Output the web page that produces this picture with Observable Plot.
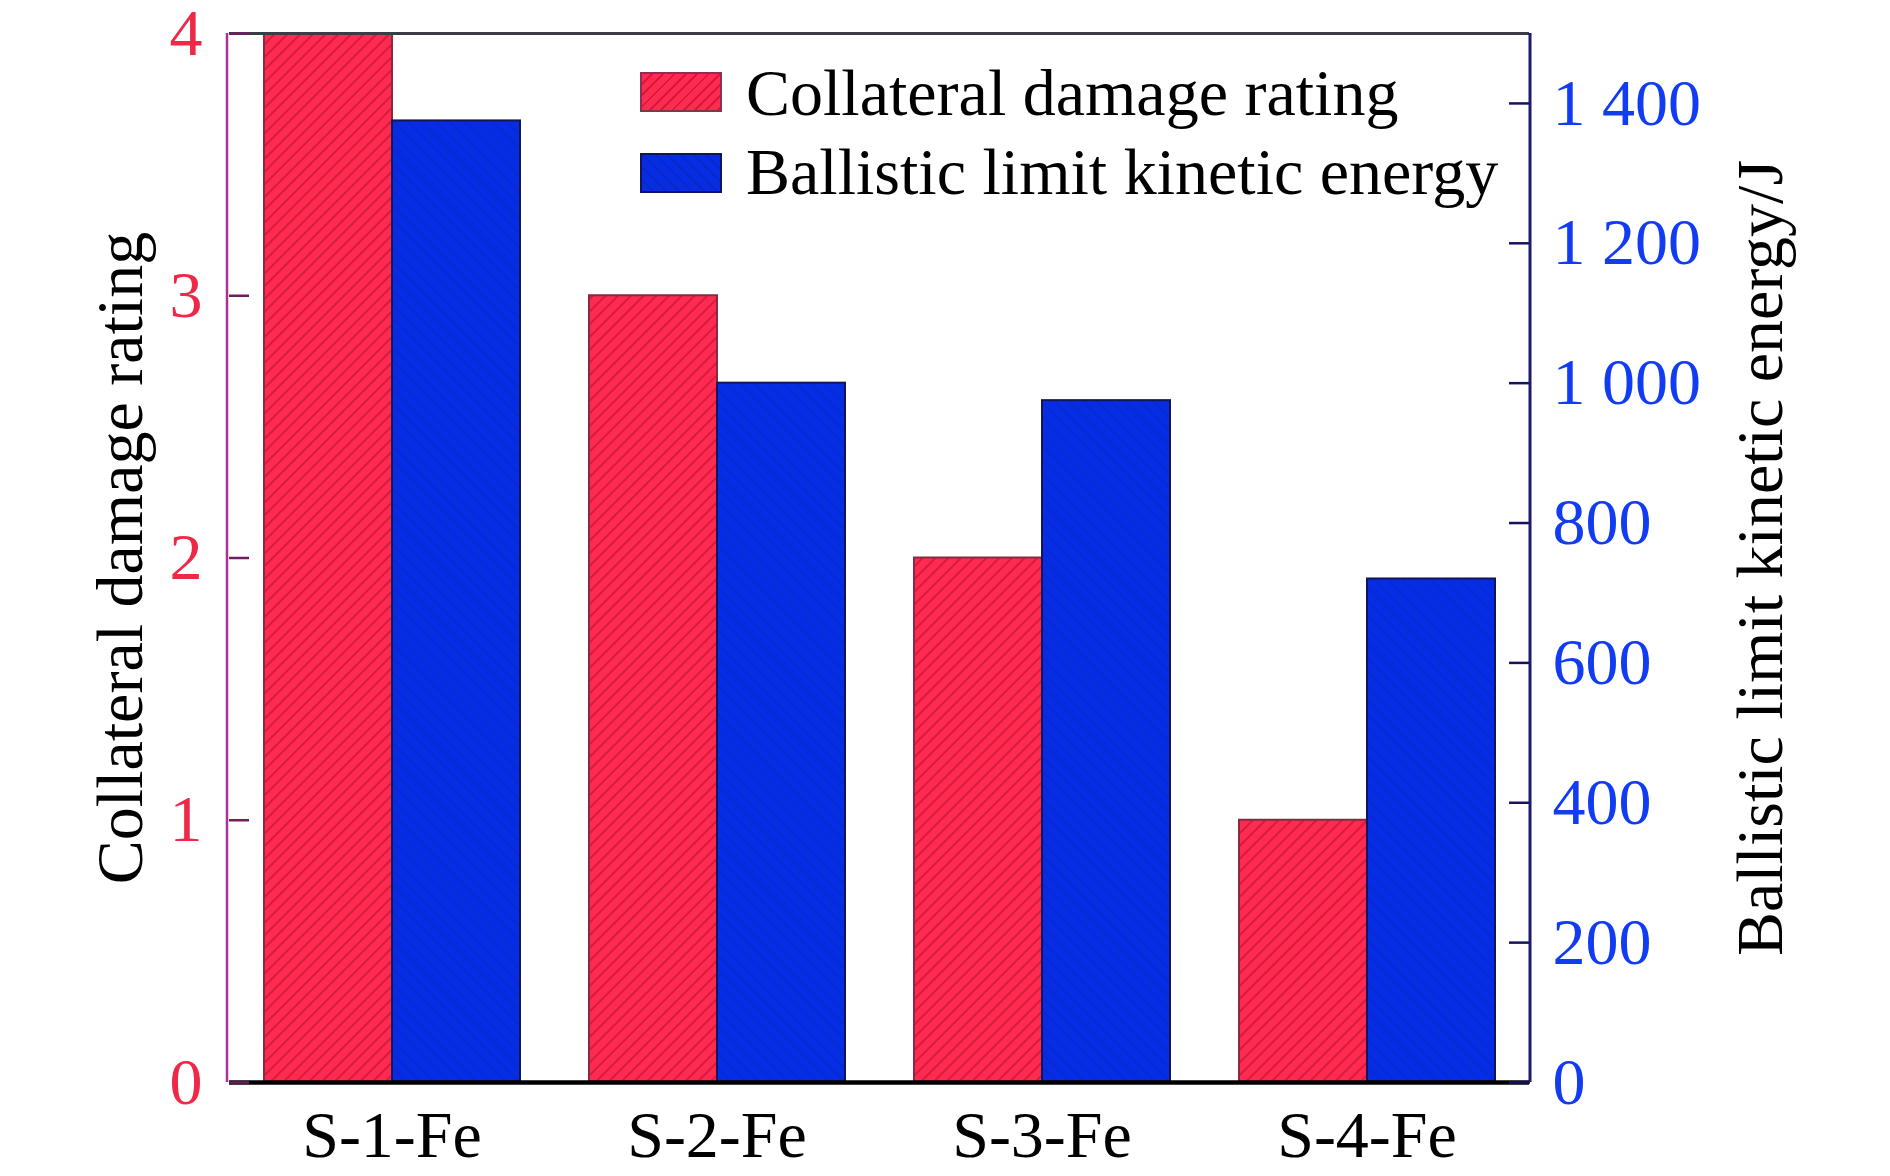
<!DOCTYPE html>
<html>
<head>
<meta charset="utf-8">
<script src="https://cdn.jsdelivr.net/npm/d3@7"></script>
<script src="https://cdn.jsdelivr.net/npm/@observablehq/plot@0.6"></script>
<style>
  body { margin: 0; background: #fff; }
  #wrap { position: relative; width: 1890px; height: 1176px; font-family: "Liberation Serif", "Times New Roman", serif; }
  .sw { position: absolute; width: 82px; height: 40px; box-sizing: border-box; }
  .lt { position: absolute; font-size: 66px; line-height: 66px; white-space: nowrap; color: #000; }
</style>
</head>
<body>
<div id="wrap"></div>
<script>
// ---- data ----
const categories = ["S-1-Fe", "S-2-Fe", "S-3-Fe", "S-4-Fe"];
const seriesNames = ["Collateral damage rating", "Ballistic limit kinetic energy"];
const damageRating = [4, 3, 2, 1];
const kineticEnergy = [1375, 1000, 975, 720];
const ratingTicks = [0, 1, 2, 3, 4];
const energyTicks = [0, 200, 400, 600, 800, 1000, 1200, 1400];
const ratingMax = 4;
const energyMax = 1500;
const leftTitle = "Collateral damage rating";
const rightTitle = "Ballistic limit kinetic energy/J";

// table (energy expressed on the rating axis for the shared y scale)
const k = ratingMax / energyMax;
const rows = categories.flatMap((c, i) => [
  {category: c, series: seriesNames[0], value: damageRating[i], y: damageRating[i]},
  {category: c, series: seriesNames[1], value: kineticEnergy[i], y: kineticEnergy[i] * k}
]);

const spaceFmt = d3.formatLocale({decimal: ".", thousands: " ", grouping: [3], currency: ["", ""]}).format(",d");

const mL = 227, mR = 360, mT = 33, mB = 94, W = 1890, H = 1176;

const plot = Plot.plot({
  width: W, height: H,
  marginLeft: mL, marginRight: mR, marginTop: mT, marginBottom: mB,
  style: {fontFamily: "Liberation Serif, Times New Roman, serif", fontSize: "66px", background: "#fff", color: "#000", overflow: "visible"},
  fx: {domain: categories, padding: 0, label: null, axis: "bottom", tickSize: 0, tickPadding: 28},
  x: {domain: seriesNames, paddingInner: 0, paddingOuter: 0.26, axis: null},
  y: {domain: [0, ratingMax], axis: null},
  marks: [
    Plot.barY(rows.filter(d => d.series === seriesNames[0]), {
      fx: "category", x: "series", y: "y",
      fill: "url(#hatchRed)", stroke: "#8a2a40", strokeWidth: 2
    }),
    Plot.barY(rows.filter(d => d.series === seriesNames[1]), {
      fx: "category", x: "series", y: "y",
      fill: "url(#hatchBlue)", stroke: "#14145a", strokeWidth: 2
    }),
    Plot.ruleY([ratingMax], {stroke: "#3c3c46", strokeWidth: 3}),
    Plot.ruleY([0], {stroke: "#000", strokeWidth: 4.5}),
    // left axis: inward ticks + red labels
    Plot.axisY(ratingTicks, {anchor: "left", tickSize: 20, dx: 20, stroke: "#6e1e5e", strokeWidth: 2.5, fill: "none", label: null}),
    Plot.axisY(ratingTicks, {anchor: "left", tickSize: 0, tickPadding: 27, fill: "#ef2848", fontSize: 66, label: null, tickFormat: d => String(d)}),
    // right axis: inward ticks + blue labels
    Plot.axisY(energyTicks.map(v => v * k), {anchor: "right", tickSize: 21, dx: -21, stroke: "#14145e", strokeWidth: 2.5, fill: "none", label: null}),
    Plot.axisY(energyTicks.map(v => v * k), {anchor: "right", tickSize: 0, tickPadding: 23, fill: "#123cf2", fontSize: 66, label: null,
      tickFormat: v => spaceFmt(Math.round(v / k))}),
    // axis titles
    Plot.text([{c: categories[0], t: leftTitle}], {
      fx: "c", text: "t", frameAnchor: "left", rotate: -90, dx: -109, lineAnchor: "middle", textAnchor: "middle", fill: "#000", fontSize: 66
    }),
    Plot.text([{c: categories[categories.length - 1], t: rightTitle}], {
      fx: "c", text: "t", frameAnchor: "right", rotate: -90, dx: 231, lineAnchor: "middle", textAnchor: "middle", fill: "#000", fontSize: 66
    })
  ]
});

// patterns + vertical frame lines
const svg = d3.select(plot);
const defs = svg.insert("defs", ":first-child");
const pr = defs.append("pattern").attr("id", "hatchRed").attr("patternUnits", "userSpaceOnUse")
  .attr("width", 9).attr("height", 9).attr("patternTransform", "rotate(45)");
pr.append("rect").attr("width", 9).attr("height", 9).attr("fill", "#ff2a52");
pr.append("line").attr("x1", 1).attr("y1", 0).attr("x2", 1).attr("y2", 9).attr("stroke", "#c8172f").attr("stroke-width", 2).attr("stroke-opacity", 0.75);
const pb = defs.append("pattern").attr("id", "hatchBlue").attr("patternUnits", "userSpaceOnUse")
  .attr("width", 10).attr("height", 10).attr("patternTransform", "rotate(-45)");
pb.append("rect").attr("width", 10).attr("height", 10).attr("fill", "#062de4");
pb.append("line").attr("x1", 1).attr("y1", 0).attr("x2", 1).attr("y2", 10).attr("stroke", "#0a25b8").attr("stroke-width", 2).attr("stroke-opacity", 0.35);

svg.append("line").attr("x1", mL).attr("x2", mL).attr("y1", mT).attr("y2", H - mB)
  .attr("stroke", "#b0308f").attr("stroke-width", 2.5);
svg.append("line").attr("x1", W - mR).attr("x2", W - mR).attr("y1", mT).attr("y2", H - mB)
  .attr("stroke", "#1a1a70").attr("stroke-width", 3);

const wrap = document.getElementById("wrap");
wrap.appendChild(plot);

// legend (inside plot area, as HTML)
const legendItems = [
  {name: seriesNames[0], bg: "repeating-linear-gradient(135deg, #ff2a52 0 6px, #d41a36 6px 8px)", border: "#8a3050", top: 72, textTop: 60},
  {name: seriesNames[1], bg: "repeating-linear-gradient(45deg, #062de4 0 7px, #0a28c8 7px 9px)", border: "#14145a", top: 153, textTop: 139}
];
legendItems.forEach(it => {
  const s = document.createElement("div");
  s.className = "sw";
  s.style.left = "640px"; s.style.top = it.top + "px";
  s.style.background = it.bg; s.style.border = "2px solid " + it.border;
  wrap.appendChild(s);
  const t = document.createElement("div");
  t.className = "lt";
  t.style.left = "746px"; t.style.top = it.textTop + "px";
  t.textContent = it.name;
  wrap.appendChild(t);
});
</script>
</body>
</html>
